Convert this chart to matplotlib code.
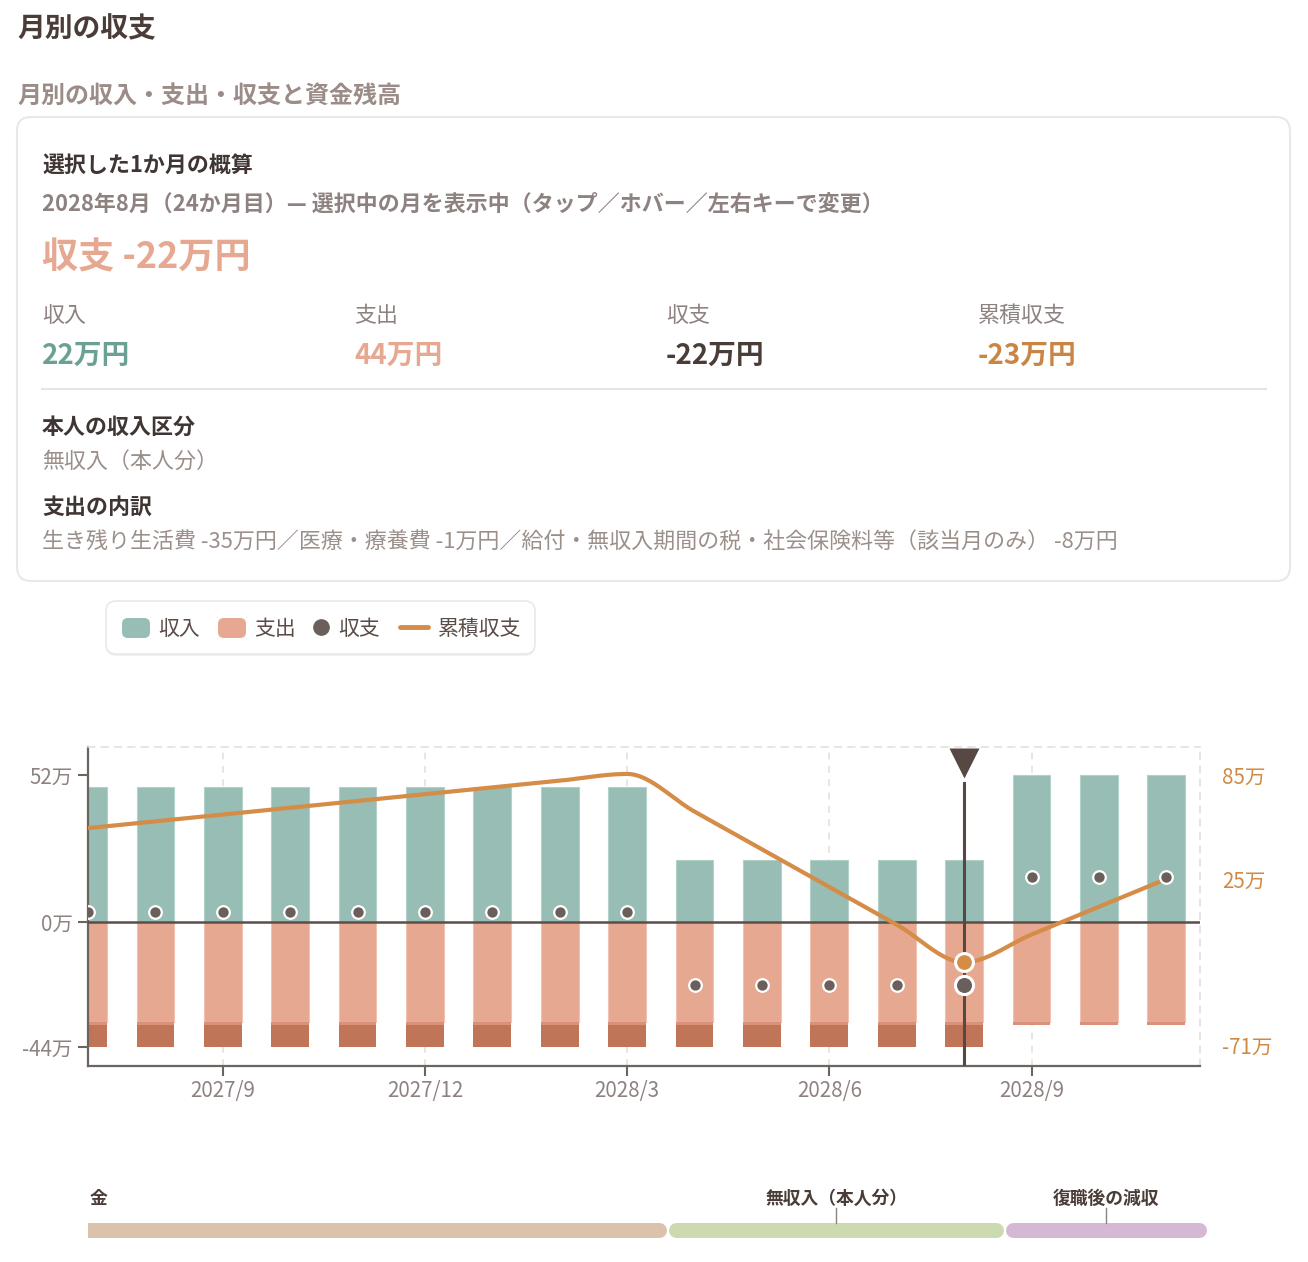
import numpy as np
import matplotlib
matplotlib.use('Agg')
import matplotlib.pyplot as plt
import matplotlib.transforms as mtransforms
from matplotlib.patches import FancyBboxPatch

plt.rcParams['font.family'] = ['Noto Sans CJK JP', 'DejaVu Sans']

# ---- データ（万円） ----
months = ['2027/7', '2027/8', '2027/9', '2027/10', '2027/11', '2027/12',
          '2028/1', '2028/2', '2028/3', '2028/4', '2028/5', '2028/6',
          '2028/7', '2028/8', '2028/9', '2028/10', '2028/11']
income = [47.8, 47.8, 47.8, 47.8, 47.8, 47.8, 47.8, 47.8, 47.8,
          22, 22, 22, 22, 22, 52, 52, 52]
living = [35, 35, 35, 35, 35, 35, 35, 35, 35, 35, 35, 35, 35, 35, 35, 35, 35]
medical = [1, 1, 1, 1, 1, 1, 1, 1, 1, 1, 1, 1, 1, 1, 1, 1, 1]
tax = [8, 8, 8, 8, 8, 8, 8, 8, 8, 8, 8, 8, 8, 8, 0, 0, 0]
balance = [3.8, 3.8, 3.8, 3.8, 3.8, 3.8, 3.8, 3.8, 3.8,
           -22, -22, -22, -22, -22, 16, 16, 16]
cumulative = [54.3, 58.2, 62.1, 66.0, 69.9, 73.8, 77.7, 81.6, 85.5,
              63.8, 42.1, 20.4, -1.3, -23.0, -7.0, 9.0, 25.0]
selected = '2028/8'
tick_months = ['2027/9', '2027/12', '2028/3', '2028/6', '2028/9']
left_ticks = [52, 0, -44]
right_ticks = [85, 25, -71]

phase_names = ['金', '無収入（本人分）', '復職後の減収']
phase_start = [-9.2, 8.6, 13.6]
phase_end = [8.6, 13.6, 16.6]
phase_colors = ['#dbc3ab', '#cddaaf', '#d5b8d3']

summary_labels = ['収入', '支出', '収支', '累積収支']
summary_values = ['22万円', '44万円', '-22万円', '-23万円']

# ---- 色 ----
C_INC = '#97bdb5'
C_EXP = '#e6a891'
C_MED = '#d9917a'
C_TAX = '#c07559'
C_BAL = '#6a5f5a'
C_CUM = '#d48c46'
C_DARK = '#4a3c37'
C_GRAY = '#8e8280'
C_LIGHT = '#9b8f8a'
BODY = 15.8


def monotone_curve(x, y, steps=30):
    x = np.asarray(x, float)
    y = np.asarray(y, float)
    h = np.diff(x)
    d = np.diff(y) / h
    m = np.zeros_like(y)
    for k in range(1, len(y) - 1):
        if d[k - 1] * d[k] > 0:
            p = (d[k - 1] * h[k] + d[k] * h[k - 1]) / (h[k - 1] + h[k])
            m[k] = (np.sign(d[k - 1]) + np.sign(d[k])) * min(abs(d[k - 1]), abs(d[k]), 0.5 * abs(p))
    m[0] = (3 * d[0] - m[1]) / 2
    m[-1] = (3 * d[-1] - m[-2]) / 2
    xs, ys = [], []
    t = np.linspace(0, 1, steps)
    for k in range(len(h)):
        h00 = 2 * t**3 - 3 * t**2 + 1
        h10 = t**3 - 2 * t**2 + t
        h01 = -2 * t**3 + 3 * t**2
        h11 = t**3 - t**2
        xs.append(x[k] + t * h[k])
        ys.append(h00 * y[k] + h10 * h[k] * m[k] + h01 * y[k + 1] + h11 * h[k] * m[k + 1])
    return np.concatenate(xs), np.concatenate(ys)


W, H = 1308, 1262
fig = plt.figure(figsize=(W / 100, H / 100), dpi=100)
fig.patch.set_facecolor('white')

# ---- 上部のテキストとカード ----
cv = fig.add_axes([0, 0, 1, 1])
cv.set_xlim(0, W)
cv.set_ylim(H, 0)
cv.axis('off')

cv.text(17, 29, '月別の収支', fontsize=20, fontweight='bold', color=C_DARK, va='center')
cv.text(17, 96, '月別の収入・支出・収支と資金残高', fontsize=17.3, fontweight='bold', color='#9b8c87', va='center')

cv.add_patch(FancyBboxPatch((17, 117), 1273, 464, boxstyle='round,pad=0,rounding_size=14',
                            fc='white', ec='#ebe7e3', lw=1.5))
cv.text(42, 165, '選択した1か月の概算', fontsize=BODY, fontweight='bold', color='#3f3532', va='center')
cv.text(42, 204, '2028年8月（24か月目）— 選択中の月を表示中（タップ／ホバー／左右キーで変更）',
        fontsize=BODY, fontweight='bold', color=C_GRAY, va='center')
cv.text(42, 258, '収支 -22万円', fontsize=26, fontweight='bold', color=C_EXP, va='center')

value_colors = ['#6ba095', C_EXP, C_DARK, '#c98543']
for i, (lab, val) in enumerate(zip(summary_labels, summary_values)):
    x0 = 42 + i * 312
    cv.text(x0, 316, lab, fontsize=BODY, color=C_GRAY, va='center')
    cv.text(x0, 356, val, fontsize=20, fontweight='bold', color=value_colors[i], va='center')
cv.plot([42, 1266], [389, 389], color='#e8e4e0', lw=1.5)

cv.text(42, 427, '本人の収入区分', fontsize=BODY, fontweight='bold', color='#3f3532', va='center')
cv.text(42, 463, '無収入（本人分）', fontsize=BODY, color=C_LIGHT, va='center')
cv.text(42, 507, '支出の内訳', fontsize=BODY, fontweight='bold', color='#3f3532', va='center')
cv.text(42, 543, '生き残り生活費 -35万円／医療・療養費 -1万円／給付・無収入期間の税・社会保険料等（該当月のみ） -8万円',
        fontsize=BODY, color=C_LIGHT, va='center')

# ---- 凡例 ----
cv.add_patch(FancyBboxPatch((106, 603), 429, 53, boxstyle='round,pad=0,rounding_size=10',
                            fc='#000000', ec='none', alpha=0.05))
cv.add_patch(FancyBboxPatch((106, 601), 429, 53, boxstyle='round,pad=0,rounding_size=10',
                            fc='white', ec='#ece8e5', lw=1.2))
cv.add_patch(FancyBboxPatch((122, 618), 28, 20, boxstyle='round,pad=0,rounding_size=6', fc=C_INC, ec='none'))
cv.text(158, 629, '収入', fontsize=15, color='#5a4c47', va='center')
cv.add_patch(FancyBboxPatch((218, 618), 28, 20, boxstyle='round,pad=0,rounding_size=6', fc=C_EXP, ec='none'))
cv.text(254, 629, '支出', fontsize=15, color='#5a4c47', va='center')
cv.plot([321], [627], 'o', ms=11, color=C_BAL)
cv.text(338, 629, '収支', fontsize=15, color='#5a4c47', va='center')
cv.plot([400, 428], [627, 627], color=C_CUM, lw=3.5, solid_capstyle='round')
cv.text(438, 629, '累積収支', fontsize=15, color='#5a4c47', va='center')

# ---- メインチャート ----
ax = fig.add_axes([88 / W, (H - 1066) / H, 1112 / W, 319 / H])
ax.patch.set_alpha(0)
x = np.arange(len(months))
neg_living = -np.array(living)
neg_med = -np.array(medical)
neg_tax = -np.array(tax)

bw = 0.56
ax.bar(x, income, width=bw, color=C_INC, edgecolor='#b3d0c9', lw=0.8, zorder=2)
ax.bar(x, neg_living, width=bw, color=C_EXP, edgecolor='#efc2b2', lw=0.8, zorder=2)
ax.bar(x, neg_med, bottom=neg_living, width=bw, color=C_MED, lw=0, zorder=2)
ax.bar(x, neg_tax, bottom=neg_living + neg_med, width=bw, color=C_TAX, lw=0, zorder=2)
ax.axhline(0, color='#5c4d48', lw=1.8, zorder=3)

ax.set_xlim(0, 16.5)
ax.set_ylim(-50.6, 61.8)
ax.set_xticks([months.index(m) for m in tick_months])
ax.set_xticklabels(tick_months)
ax.set_yticks(left_ticks)
ax.set_yticklabels([f'{v}万' for v in left_ticks])
ax.tick_params(axis='x', length=7, width=1.5, color='#6b6460', labelcolor=C_GRAY, labelsize=14.8, pad=3)
ax.tick_params(axis='y', length=7, width=1.5, color='#6b6460', labelcolor=C_GRAY, labelsize=14.8, pad=4)
ax.grid(axis='x', ls=(0, (4, 4)), color='#e4e0dd', lw=1.2)
ax.set_axisbelow(True)
for s in ['left', 'bottom']:
    ax.spines[s].set_color('#6b6460')
    ax.spines[s].set_linewidth(1.6)
for s in ['top', 'right']:
    ax.spines[s].set_color('#e4e0dd')
    ax.spines[s].set_linewidth(1.2)
    ax.spines[s].set_linestyle((0, (4, 4)))

ratio = right_ticks[0] / left_ticks[0]
ax2 = ax.twinx()
ax2.set_ylim(np.array(ax.get_ylim()) * ratio)
ax2.set_yticks(right_ticks)
ax2.set_yticklabels([f'{v}万' for v in right_ticks])
ax2.tick_params(axis='y', length=0, labelcolor='#d08a45', labelsize=14.8, pad=16)
for s in ax2.spines.values():
    s.set_visible(False)

cx, cy = monotone_curve(x, cumulative)
ax2.plot(cx, cy, color=C_CUM, lw=3, solid_capstyle='round', zorder=2)

sel = months.index(selected)
trans = mtransforms.blended_transform_factory(ax2.transData, ax2.transAxes)
ax2.plot([sel, sel], [0, 0.887], color='#574843', lw=2.2, transform=trans, zorder=3)
ax2.plot([sel], [0.95], marker='v', ms=21, color='#574843', mec='none', transform=trans,
         clip_on=False, zorder=3)

others = [i for i in x if i != sel]
ax2.scatter([x[i] for i in others], [balance[i] for i in others], s=82, color=C_BAL,
            edgecolors='white', linewidths=1.6, transform=ax.transData, zorder=4)
ax2.scatter([sel], [balance[sel]], s=170, color=C_BAL, edgecolors='white', linewidths=2.2,
            transform=ax.transData, zorder=5)
ax2.scatter([sel], [cumulative[sel]], s=165, color=C_CUM, edgecolors='white', linewidths=2.2, zorder=5)

# ---- フェーズのタイムライン ----
tl = fig.add_axes([88 / W, (H - 1250) / H, 1119 / W, 70 / H])
tl.set_xlim(0, 16.6)
tl.set_ylim(0, 1)
tl.axis('off')
cap = 7.5 / 67.4
gap = 0.012
for i, (a, b, c) in enumerate(zip(phase_start, phase_end, phase_colors)):
    tl.plot([a + cap + gap, b - cap - gap], [0.279, 0.279], color=c, lw=10.8,
            solid_capstyle='round')
    if i == 0:
        tl.text(0.03, 0.73, phase_names[i], fontsize=12.8, fontweight='bold', color=C_DARK,
                ha='left', va='center')
    else:
        mid = (a + b) / 2
        tl.text(mid, 0.73, phase_names[i], fontsize=12.8, fontweight='bold', color=C_DARK,
                ha='center', va='center')
        tl.plot([mid, mid], [0.386, 0.6], color=C_GRAY, lw=1)

fig.savefig('out.png', dpi=100, facecolor='white')
